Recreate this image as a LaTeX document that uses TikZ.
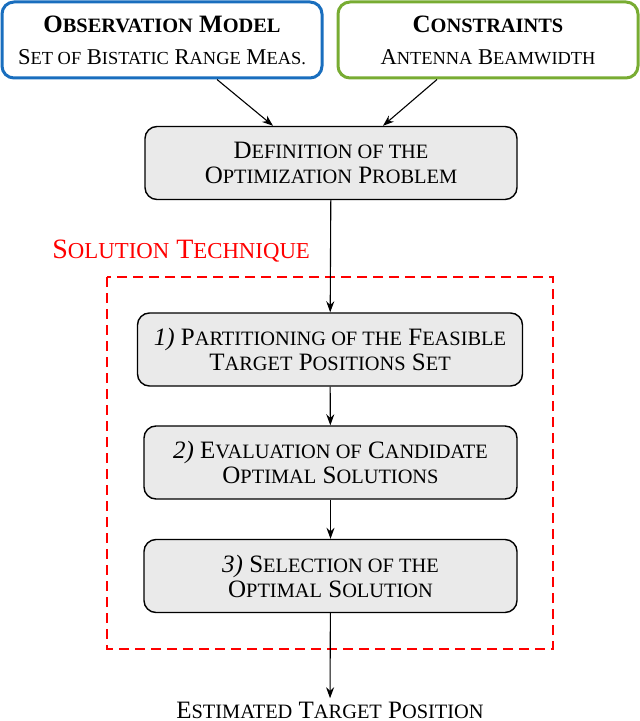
\documentclass[tikz,border=0pt]{standalone}
\usepackage{fontspec}
\setmainfont{Liberation Serif}
\usetikzlibrary{arrows.meta,calc}
\definecolor{obsblue}{RGB}{25,110,190}
\definecolor{consgreen}{RGB}{120,172,50}
\definecolor{boxgray}{RGB}{234,234,234}
\newcommand{\fsc}[2][10.2]{{\fontsize{#1}{12.5}\selectfont\MakeUppercase{#2}}}
\newcommand{\subline}{\fontsize{11.3}{12.5}\selectfont}

\tikzset{
  topbox/.style={draw, line width=1.5pt, rounded corners=6pt, align=center,
    minimum height=38pt},
  stepbox/.style={draw, line width=0.7pt, fill=boxgray, rounded corners=6pt,
    align=center, minimum height=36.5pt},
  flow/.style={-{Stealth[length=5.5pt,width=4pt]}, line width=0.55pt}
}

\begin{document}
\begin{tikzpicture}[x=0.5pt, y=-0.5pt,
  every node/.style={font=\fontsize{12.5}{12.5}\selectfont}]
\useasboundingbox (0,0) rectangle (640,721);

\node[topbox, draw=obsblue, minimum width=160pt] (obs) at (162,40)
  {\textbf{O\fsc{bservation} M\fsc{odel}}\\[3.5pt]
   {\subline S\fsc[9.2]{et of} B\fsc[9.2]{istatic} R\fsc[9.2]{ange} M\fsc[9.2]{eas.}}};
\node[topbox, draw=consgreen, minimum width=150pt] (cons) at (488,40)
  {\textbf{C\fsc{onstraints}}\\[3.5pt]
   {\subline A\fsc[9.2]{ntenna} B\fsc[9.2]{eamwidth}}};

\node[stepbox, minimum width=186pt] (def) at (331,163)
  {D\fsc{efinition of the}\\ O\fsc{ptimization} P\fsc{roblem}};

% solution technique
\node[anchor=west, text=red, inner sep=0pt, font=\fontsize{14}{14}\selectfont] (tech) at (52,251)
  {S\fsc[11.4]{olution} T\fsc[11.4]{echnique}};
\draw[red, dashed, line width=1pt, dash pattern=on 5pt off 3pt] (107,277) rectangle (553,649);

\node[stepbox, minimum width=192.5pt] (part) at (330,349.5)
  {\textit{1)} P\fsc{artitioning of the} F\fsc{easible}\\ T\fsc{arget} P\fsc{ositions} S\fsc{et}};
\node[stepbox, minimum width=186.5pt] (eval) at (330.5,462.5)
  {\textit{2)} E\fsc{valuation of} C\fsc{andidate}\\ O\fsc{ptimal} S\fsc{olutions}};
\node[stepbox, minimum width=186.5pt] (sel) at (330.5,576)
  {\textit{3)} S\fsc{election of the}\\ O\fsc{ptimal} S\fsc{olution}};

\node[anchor=base, inner sep=1.5pt] (est) at (330,718)
  {E\fsc{stimated} T\fsc{arget} P\fsc{osition}};

\draw[flow] ($(obs.south)+(55,0)$) -- ($(def.north)+(-58,0)$);
\draw[flow] ($(cons.south)+(-51,0)$) -- ($(def.north)+(52,0)$);
\draw[flow] (def) -- (part);
\draw[flow] (part) -- (eval);
\draw[flow] (eval) -- (sel);
\draw[flow] (sel) -- (est);
\end{tikzpicture}
\end{document}
